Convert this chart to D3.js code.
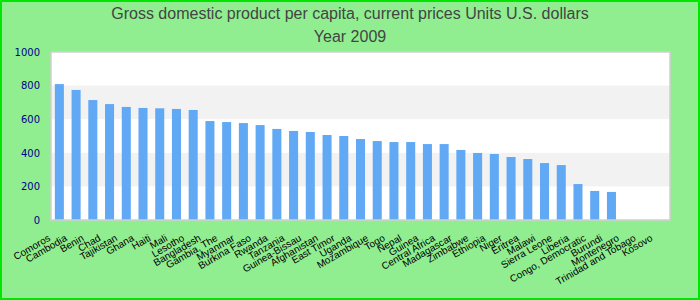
<!DOCTYPE html>
<html>
<head>
<meta charset="utf-8">
<script src="https://cdn.jsdelivr.net/npm/d3@7"></script>
<style>
  body { margin: 0; background: #fff; }
  svg { display: block; }
</style>
</head>
<body>
<div id="chart"></div>
<script>
// GDP per capita, current prices (U.S. dollars), year 2009
const countries = [
  "Comoros", "Cambodia", "Benin", "Chad", "Tajikistan", "Ghana", "Haiti", "Mali",
  "Lesotho", "Bangladesh", "Gambia, The", "Myanmar", "Burkina Faso", "Rwanda",
  "Tanzania", "Guinea-Bissau", "Afghanistan", "East Timor", "Uganda", "Mozambique",
  "Togo", "Nepal", "Guinea", "Central Africa", "Madagascar", "Zimbabwe", "Ethiopia",
  "Niger", "Eritrea", "Malawi", "Sierra Leone", "Liberia", "Congo, Democratic",
  "Burundi", "Montenegro", "Trinidad and Tobago", "Kosovo"
];
const gdpValues = [
  809, 774, 714, 690, 673, 667, 665, 661,
  655, 589, 583, 577, 565, 542,
  530, 524, 506, 500, 482, 470,
  464, 464, 452, 452, 417, 399, 393,
  375, 363, 339, 327, 214, 173,
  167, null, null, null
];
const yTicks = [0, 200, 400, 600, 800, 1000];
const titleLines = ["Gross domestic product per capita, current prices Units U.S. dollars", "Year 2009"];

const width = 700, height = 300;
const plot = { left: 51, right: 670, top: 52, bottom: 220 };

const data = countries.map((c, i) => ({ name: c, value: gdpValues[i] }));

const svg = d3.select("#chart").append("svg")
  .attr("width", width)
  .attr("height", height);

// background + frame
svg.append("rect")
  .attr("x", 1).attr("y", 1)
  .attr("width", width - 2).attr("height", height - 2)
  .attr("fill", "#90ee90")
  .attr("stroke", "#00e600")
  .attr("stroke-width", 2);

// title
svg.append("g").selectAll("text")
  .data(titleLines)
  .enter()
  .append("text")
  .attr("x", width / 2)
  .attr("y", (d, i) => 18.5 + i * 23.5)
  .attr("text-anchor", "middle")
  .style("font-family", "'Liberation Sans', Arial, sans-serif")
  .style("font-size", "16px")
  .style("fill", "#444")
  .text(d => d);

const x = d3.scaleBand()
  .domain(countries)
  .range([plot.left, plot.right])
  .paddingInner(0.46)
  .paddingOuter(0.23);

const y = d3.scaleLinear()
  .domain([0, 1000])
  .range([plot.bottom, plot.top]);

// plot area with alternating bands
svg.append("rect")
  .attr("x", plot.left).attr("y", plot.top)
  .attr("width", plot.right - plot.left)
  .attr("height", plot.bottom - plot.top)
  .attr("fill", "#fff");

const bands = d3.pairs(yTicks).filter((p, i) => i % 2 === 1);
svg.append("g").selectAll("rect")
  .data(bands)
  .enter()
  .append("rect")
  .attr("x", plot.left)
  .attr("width", plot.right - plot.left)
  .attr("y", d => y(d[1]))
  .attr("height", d => y(d[0]) - y(d[1]))
  .attr("fill", "#f2f2f2");

// bars
svg.append("g").selectAll("rect")
  .data(data.filter(d => d.value != null))
  .enter()
  .append("rect")
  .attr("x", d => x(d.name))
  .attr("width", x.bandwidth())
  .attr("y", d => y(d.value))
  .attr("height", d => y(0) - y(d.value))
  .attr("fill", "#62a9f5");

// plot border
svg.append("rect")
  .attr("x", plot.left).attr("y", plot.top)
  .attr("width", plot.right - plot.left)
  .attr("height", plot.bottom - plot.top)
  .attr("fill", "none")
  .attr("stroke", "#cfcfcf")
  .attr("stroke-width", 1.5);

// y axis
const yAxis = svg.append("g")
  .attr("transform", `translate(${plot.left},0)`)
  .call(d3.axisLeft(y).tickValues(yTicks).tickFormat(d3.format("d")).tickSize(0).tickPadding(11));
yAxis.select(".domain").remove();
yAxis.selectAll("text")
  .style("font-family", "'DejaVu Sans', sans-serif")
  .style("font-size", "10px")
  .style("fill", "#00008b");

// x axis with slanted labels
const xAxis = svg.append("g")
  .attr("transform", `translate(0,${plot.bottom})`)
  .call(d3.axisBottom(x).tickSize(0));
xAxis.select(".domain").remove();
xAxis.selectAll("text")
  .attr("x", 0)
  .attr("y", 0)
  .attr("dy", "0.35em")
  .attr("text-anchor", "end")
  .attr("transform", "translate(-10,17) rotate(-30)")
  .style("font-family", "'Liberation Sans', Arial, sans-serif")
  .style("font-size", "10px")
  .style("fill", "#000");
</script>
</body>
</html>
